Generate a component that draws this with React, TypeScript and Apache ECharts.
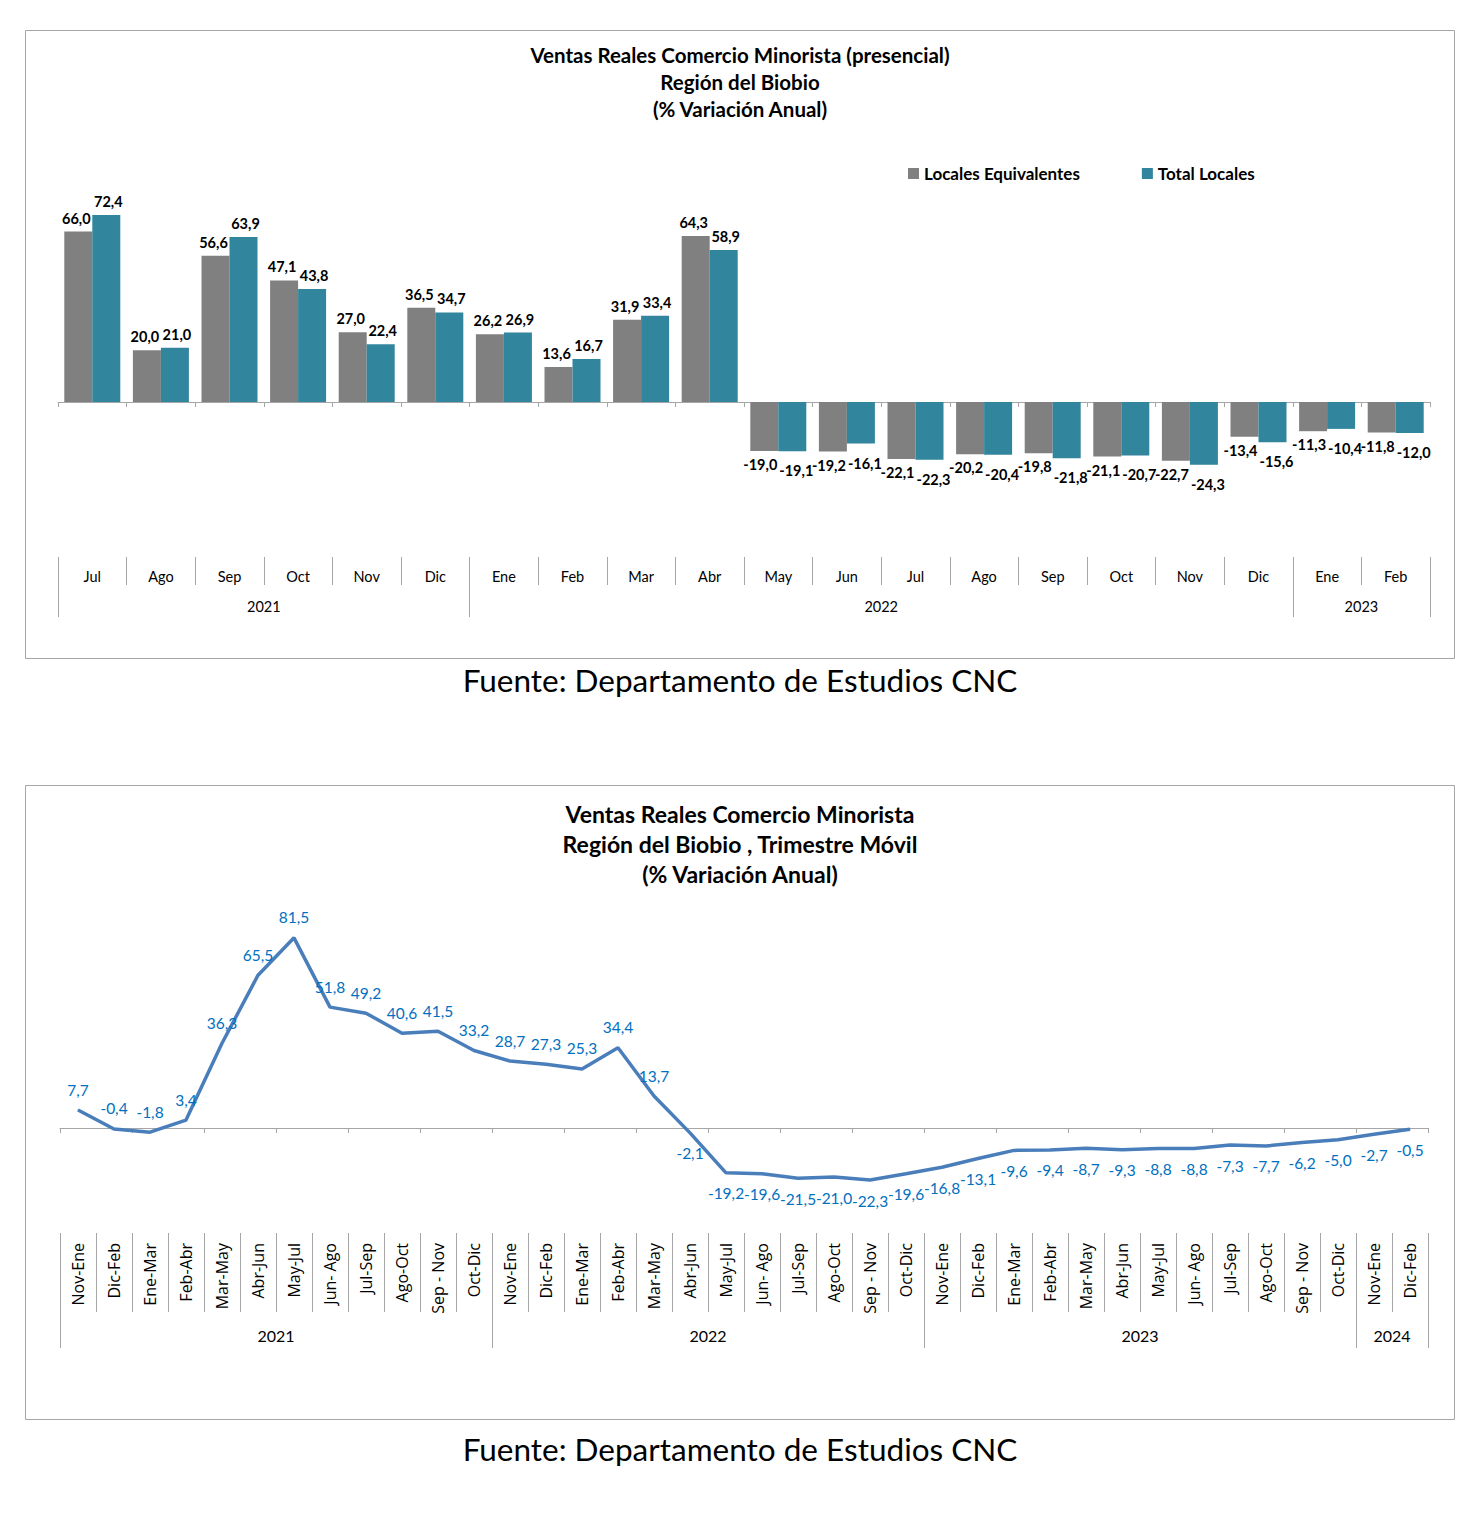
import React, { useEffect, useRef } from "react";
import * as echarts from "echarts";

// ---------- Top chart data ----------
const topMonths = ["Jul", "Ago", "Sep", "Oct", "Nov", "Dic", "Ene", "Feb", "Mar", "Abr", "May", "Jun", "Jul", "Ago", "Sep", "Oct", "Nov", "Dic", "Ene", "Feb"];
const topYears = ["2021", "2022", "2023"];
const topYearSpans = [6, 12, 2];
const localesEquivalentes = [66.0, 20.0, 56.6, 47.1, 27.0, 36.5, 26.2, 13.6, 31.9, 64.3, -19.0, -19.2, -22.1, -20.2, -19.8, -21.1, -22.7, -13.4, -11.3, -11.8];
const totalLocales = [72.4, 21.0, 63.9, 43.8, 22.4, 34.7, 26.9, 16.7, 33.4, 58.9, -19.1, -16.1, -22.3, -20.4, -21.8, -20.7, -24.3, -15.6, -10.4, -12.0];

// ---------- Bottom chart data ----------
const botPeriods = [
  "Nov-Ene", "Dic-Feb", "Ene-Mar", "Feb-Abr", "Mar-May", "Abr-Jun", "May-Jul", "Jun- Ago", "Jul-Sep", "Ago-Oct", "Sep - Nov", "Oct-Dic",
  "Nov-Ene", "Dic-Feb", "Ene-Mar", "Feb-Abr", "Mar-May", "Abr-Jun", "May-Jul", "Jun- Ago", "Jul-Sep", "Ago-Oct", "Sep - Nov", "Oct-Dic",
  "Nov-Ene", "Dic-Feb", "Ene-Mar", "Feb-Abr", "Mar-May", "Abr-Jun", "May-Jul", "Jun- Ago", "Jul-Sep", "Ago-Oct", "Sep - Nov", "Oct-Dic",
  "Nov-Ene", "Dic-Feb",
];
const botYears = ["2021", "2022", "2023", "2024"];
const botYearSpans = [12, 12, 12, 2];
const trimestreMovil = [
  7.7, -0.4, -1.8, 3.4, 36.3, 65.5, 81.5, 51.8, 49.2, 40.6, 41.5, 33.2,
  28.7, 27.3, 25.3, 34.4, 13.7, -2.1, -19.2, -19.6, -21.5, -21.0, -22.3, -19.6,
  -16.8, -13.1, -9.6, -9.4, -8.7, -9.3, -8.8, -8.8, -7.3, -7.7, -6.2, -5.0,
  -2.7, -0.5,
];

const fmt = (v: number) => v.toFixed(1).replace(".", ",");
const FONT = "Lato, 'Noto Sans', sans-serif";
const GRAY = "#A6A6A6";

function groupInfo(spans: number[]) {
  const bounds = [0];
  const centers: number[] = [];
  let acc = 0;
  spans.forEach((s) => {
    centers.push(acc + s / 2);
    acc += s;
    bounds.push(acc);
  });
  return { bounds, centers };
}

export default function App() {
  const ref = useRef<HTMLDivElement>(null);
  useEffect(() => {
    if (!ref.current) return;
    const chart = echarts.init(ref.current, undefined, { renderer: "svg" });
    const tg = groupInfo(topYearSpans);
    const bg = groupInfo(botYearSpans);
    const topYearLabel = (v: number) => {
      const i = tg.centers.indexOf(v);
      return i >= 0 ? topYears[i] : "";
    };
    const botYearLabel = (v: number) => {
      const i = bg.centers.indexOf(v);
      return i >= 0 ? botYears[i] : "";
    };

    const barLabel = {
      show: true,
      formatter: (p: any) => fmt(p.value),
      fontWeight: "bold" as const,
      fontSize: 14.5,
      color: "#000",
      fontFamily: FONT,
      distance: 6,
    };
    const barData = (vals: number[], side: number) =>
      vals.map((v) => ({
        value: v,
        label: {
          position: v >= 0 ? "top" : "bottom",
          offset: v >= 0 ? [side * 2, 0] : [side * 4, side > 0 ? 6 : 0],
        },
      }));

    const option: any = {
      animation: false,
      backgroundColor: "#fff",
      title: [
        {
          text: "Ventas Reales Comercio Minorista (presencial)\nRegión del Biobio\n(% Variación Anual)",
          left: "center",
          top: 36,
          textStyle: { fontSize: 20.5, fontWeight: "bold", lineHeight: 27, color: "#000", fontFamily: FONT },
        },
        {
          text: "Ventas Reales Comercio Minorista\nRegión del Biobio , Trimestre Móvil\n(% Variación Anual)",
          left: "center",
          top: 794,
          textStyle: { fontSize: 23, fontWeight: "bold", lineHeight: 30, color: "#000", fontFamily: FONT },
        },
      ],
      legend: {
        data: ["Locales Equivalentes", "Total Locales"],
        left: 903,
        top: 160,
        icon: "rect",
        itemWidth: 11,
        itemHeight: 11,
        itemGap: 62,
        textStyle: { fontSize: 17, fontWeight: "bold", color: "#000", fontFamily: FONT },
      },
      grid: [
        { left: 58, width: 1372, top: 195.4, height: 361.6 },
        { left: 60, width: 1368, top: 918, height: 315 },
      ],
      xAxis: [
        {
          gridIndex: 0, type: "category", data: topMonths, position: "bottom",
          axisLine: { onZero: true, lineStyle: { color: GRAY } },
          axisTick: { show: true, length: 5, lineStyle: { color: GRAY } },
          axisLabel: { show: false },
        },
        {
          gridIndex: 0, type: "category", data: topMonths, position: "bottom",
          axisLine: { show: false, onZero: false },
          axisTick: { show: true, length: 28, lineStyle: { color: GRAY } },
          axisLabel: { margin: 12, fontSize: 14.5, color: "#000", fontFamily: FONT },
        },
        {
          gridIndex: 0, type: "value", min: 0, max: topMonths.length, position: "bottom",
          axisLine: { show: false, onZero: false },
          splitLine: { show: false },
          axisTick: { show: true, customValues: tg.bounds, length: 60, lineStyle: { color: GRAY } },
          axisLabel: { customValues: tg.centers, formatter: topYearLabel, margin: 42, fontSize: 14.5, color: "#000", fontFamily: FONT },
        },
        {
          gridIndex: 1, type: "category", data: botPeriods, position: "bottom",
          axisLine: { onZero: true, lineStyle: { color: GRAY } },
          axisTick: { show: true, length: 5, lineStyle: { color: GRAY } },
          axisLabel: { show: false },
        },
        {
          gridIndex: 1, type: "category", data: botPeriods, position: "bottom",
          axisLine: { show: false, onZero: false },
          axisTick: { show: true, length: 79, lineStyle: { color: GRAY } },
          axisLabel: { rotate: 90, margin: 10, fontSize: 16, color: "#000", fontFamily: "'Open Sans', sans-serif", interval: 0 },
        },
        {
          gridIndex: 1, type: "value", min: 0, max: botPeriods.length, position: "bottom",
          axisLine: { show: false, onZero: false },
          splitLine: { show: false },
          axisTick: { show: true, customValues: bg.bounds, length: 115, lineStyle: { color: GRAY } },
          axisLabel: { customValues: bg.centers, formatter: botYearLabel, margin: 94, fontSize: 16, color: "#000", fontFamily: FONT },
        },
      ],
      yAxis: [
        { gridIndex: 0, type: "value", min: -60, max: 80, show: false },
        { gridIndex: 1, type: "value", min: -45, max: 90, show: false },
      ],
      series: [
        {
          type: "bar", name: "Locales Equivalentes", xAxisIndex: 0, yAxisIndex: 0,
          barWidth: 28, barGap: "0%",
          itemStyle: { color: "#808080" },
          label: barLabel,
          data: barData(localesEquivalentes, -1),
        },
        {
          type: "bar", name: "Total Locales", xAxisIndex: 0, yAxisIndex: 0,
          barWidth: 28, barGap: "0%",
          itemStyle: { color: "#31859C" },
          label: barLabel,
          data: barData(totalLocales, 1),
        },
        {
          type: "line", name: "Trimestre Móvil", xAxisIndex: 3, yAxisIndex: 1,
          symbol: "circle", symbolSize: 1,
          itemStyle: { color: "#4A7EBB" },
          lineStyle: { width: 3.5, color: "#4A7EBB" },
          label: {
            show: true, formatter: (p: any) => fmt(p.value), fontSize: 15.5, color: "#0070C0",
            fontFamily: FONT, distance: 12,
          },
          data: trimestreMovil.map((v, i) => ({ value: v, label: { position: v < 0 && i > 10 ? "bottom" : "top" } })),
        },
      ],
      graphic: [
        { type: "rect", shape: { x: 25.5, y: 30.5, width: 1429, height: 628 }, style: { fill: "none", stroke: "#A6A6A6", lineWidth: 1 } },
        { type: "rect", shape: { x: 25.5, y: 785.5, width: 1429, height: 634 }, style: { fill: "none", stroke: "#A6A6A6", lineWidth: 1 } },
        { type: "text", x: 740, y: 680, style: { text: "Fuente: Departamento de Estudios CNC", fontSize: 31.5, fontFamily: FONT, fill: "#000", textAlign: "center", textVerticalAlign: "middle" } },
        { type: "text", x: 740, y: 1449, style: { text: "Fuente: Departamento de Estudios CNC", fontSize: 31.5, fontFamily: FONT, fill: "#000", textAlign: "center", textVerticalAlign: "middle" } },
      ],
    };
    chart.setOption(option);
    return () => chart.dispose();
  }, []);
  return <div ref={ref} style={{ position: "absolute", left: 0, top: 0, width: 1480, height: 1516 }} />;
}
